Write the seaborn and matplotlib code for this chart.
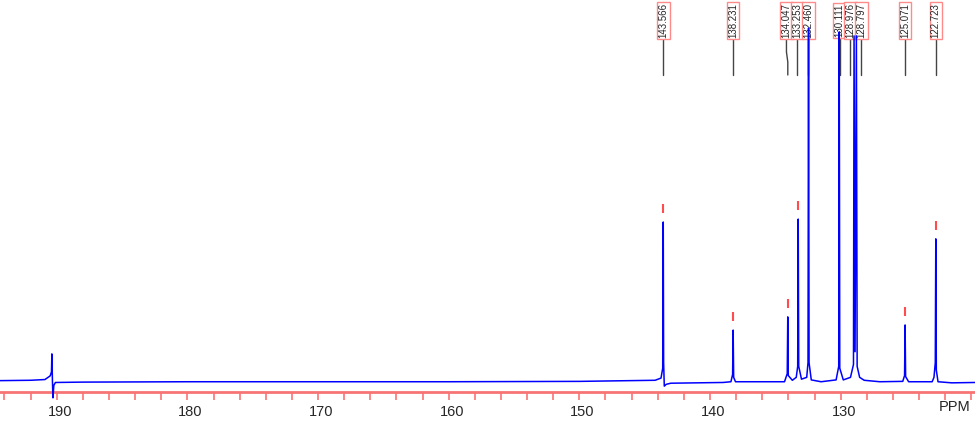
import numpy as np
import pandas as pd
import seaborn as sns
from matplotlib import pyplot as plt
from matplotlib.transforms import ScaledTranslation

# 13C spectrum: (ppm, intensity) vertices of the trace
spec_ppm = [194.4, 192.0, 190.9, 190.5, 190.40, 190.37, 190.33, 190.29, 190.22, 190.10,
            188.0, 180.0, 170.0, 160.0, 150.0, 144.2, 143.75, 143.62, 143.58, 143.55,
            143.50, 143.35, 143.0, 139.0, 138.40, 138.27, 138.23, 138.19, 138.05, 134.3,
            134.09, 134.05, 134.01, 133.7, 133.40, 133.29, 133.25, 133.21, 133.0, 132.60,
            132.50, 132.46, 132.42, 132.25, 131.5, 130.35, 130.15, 130.11, 130.07, 129.8,
            129.25, 129.02, 128.976, 128.90, 128.797, 128.74, 128.55, 128.2, 127.0, 125.25,
            125.11, 125.07, 125.03, 124.8, 123.0, 122.86, 122.76, 122.72, 122.68, 122.55,
            121.5, 119.7]
spec_int = [0.1, 0.2, 0.4, 1.4, 2.5, 7.4, 0.5, -4.6, -1.2, -0.4,
            -0.3, -0.2, -0.2, -0.2, -0.1, 0.2, 0.8, 3.5, 43.4, 5.0,
            -1.4, -0.9, -0.6, -0.4, -0.2, 1.8, 13.9, 1.0, -0.2, -0.2,
            2.0, 17.5, 1.5, 0.2, 1.0, 4.0, 44.2, 4.0, 0.5, 1.0,
            5.0, 96.3, 5.0, 0.3, -0.2, 0.3, 4.0, 95.3, 3.5, 0.3,
            1.0, 4.5, 94.2, 8.0, 94.2, 4.0, 1.0, 0.2, -0.2, -0.1,
            1.5, 15.3, 1.2, -0.2, -0.2, 1.0, 5.0, 38.8, 3.0, -0.2,
            -0.5, -0.4]

# picked peaks
peak_ppm = [143.566, 138.231, 134.047, 133.253, 132.460, 130.111, 128.976, 128.797, 125.071, 122.723]
peak_height = [43.4, 13.9, 17.5, 44.2, 96.3, 95.3, 94.2, 94.2, 15.3, 38.8]
peak_labels = ['143.566', '138.231', '134.047', '133.253', '132.460',
               '130.111', '128.976', '128.797', '125.071', '122.723']
label_ppm = [143.566, 138.231, 134.15, 133.35, 132.47, 130.09, 129.25, 128.41, 125.071, 122.723]

major_ticks = [190, 180, 170, 160, 150, 140, 130, 120]
major_labels = ['190', '180', '170', '160', '150', '140', '130', '']
minor_ticks = list(range(120, 195, 2))

sns.set_style('white')
plt.rcParams['font.family'] = ['Liberation Sans', 'DejaVu Sans']

fig = plt.figure(figsize=(9.75, 4.38), dpi=100)
ax = fig.add_axes([0, 46 / 438, 1, 392 / 438])

df = pd.DataFrame({'ppm': spec_ppm, 'intensity': spec_int})
sns.lineplot(data=df, x='ppm', y='intensity', sort=False, estimator=None,
             color='#0000ff', lw=1.1, ax=ax, zorder=5)
ax.lines[0].set_clip_on(False)

ax.set_xlim(194.34, 119.72)
ax.set_ylim(-3, 104)

for s in ['top', 'left', 'right']:
    ax.spines[s].set_visible(False)
ax.spines['bottom'].set_color('#f87474')
ax.spines['bottom'].set_linewidth(2)

ax.set_xticks(major_ticks)
ax.set_xticklabels(major_labels)
ax.set_xticks(minor_ticks, minor=True)
ax.tick_params(axis='x', which='both', direction='out', length=6, width=1.2,
               color='#f87474', labelsize=10.5, pad=3, bottom=True)
ax.set_yticks([])
ax.set_xlabel('')
ax.set_ylabel('')
shift = ScaledTranslation(3 / 100, 0, fig.dpi_scale_trans)
for lab in ax.get_xticklabels():
    lab.set_transform(lab.get_transform() + shift)

fig.text(970 / 975, (438 - 407) / 438, 'PPM', ha='right', va='center', fontsize=10.5)

# red peak markers (only where they fall below the label area)
for p, h in zip(peak_ppm, peak_height):
    if h < 60:
        ax.vlines(p, h + 2.5, h + 4.9, color='#ff4d4d', lw=1.5, zorder=4)

# label boxes and leaders
tr = ax.get_xaxis_transform()
def fy(px):
    return (392 - px) / 392

for p, lp, txt in zip(peak_ppm, label_ppm, peak_labels):
    ax.text(lp, fy(20.5), txt, transform=tr, rotation=90, ha='center', va='center',
            fontsize=7, zorder=3,
            bbox=dict(boxstyle='square,pad=0.12', fc='white', ec='#ff8a8a', lw=1))
    if abs(lp - p) > 0.05 and p > 134:
        xs, ys = [lp, lp, p, p], [fy(38), fy(52), fy(62), fy(75)]
    else:
        xs, ys = [lp, lp], [fy(38), fy(75)]
    ax.plot(xs, ys, transform=tr, color='#444444', lw=1, zorder=2)

plt.savefig('out.png', dpi=100)
